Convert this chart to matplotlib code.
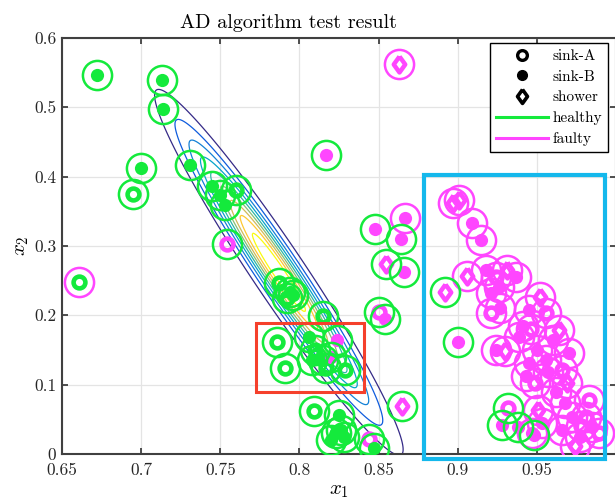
import numpy as np
import matplotlib
matplotlib.use('Agg')
import matplotlib.pyplot as plt
from matplotlib.patches import Rectangle
from matplotlib.lines import Line2D

plt.rcParams['font.family'] = ['cmr10', 'DejaVu Serif']
plt.rcParams['mathtext.fontset'] = 'cm'
plt.rcParams['axes.formatter.use_mathtext'] = True

# sample points: kind A = sink-A, B = sink-B, S = shower
# inner = state of the marker itself, ring = state of the surrounding circle (h healthy / f faulty)
pt_x = [0.672, 0.713, 0.714, 0.700, 0.695, 0.731, 0.745, 0.750, 0.760, 0.753,
        0.754, 0.661, 0.817, 0.787, 0.794, 0.792, 0.796, 0.815, 0.863, 0.848,
        0.867, 0.864, 0.855, 0.866, 0.850, 0.854,
        0.786, 0.791, 0.806, 0.810, 0.815, 0.817, 0.808, 0.824, 0.820, 0.829,
        0.809, 0.825, 0.823, 0.828, 0.820, 0.826, 0.844, 0.847, 0.865,
        0.897, 0.901, 0.909, 0.915, 0.906, 0.892, 0.900, 0.918, 0.924, 0.931,
        0.937, 0.921, 0.926, 0.921, 0.927, 0.924, 0.930, 0.952, 0.945, 0.956,
        0.941, 0.939, 0.964, 0.960, 0.970, 0.945, 0.943, 0.949, 0.966, 0.969,
        0.956, 0.983, 0.968, 0.972, 0.981, 0.966, 0.977, 0.985, 0.974, 0.989,
        0.951, 0.953, 0.947, 0.932, 0.928, 0.938, 0.948,
        0.950, 0.962, 0.978, 0.957, 0.946]
pt_y = [0.547, 0.539, 0.498, 0.412, 0.375, 0.417, 0.386, 0.374, 0.381, 0.359,
        0.303, 0.248, 0.431, 0.246, 0.234, 0.225, 0.229, 0.199, 0.563, 0.325,
        0.341, 0.310, 0.274, 0.262, 0.205, 0.194,
        0.161, 0.124, 0.169, 0.150, 0.136, 0.124, 0.136, 0.164, 0.140, 0.121,
        0.062, 0.056, 0.030, 0.025, 0.020, 0.035, 0.022, 0.008, 0.069,
        0.362, 0.366, 0.333, 0.309, 0.257, 0.233, 0.162, 0.265, 0.256, 0.265,
        0.256, 0.232, 0.241, 0.203, 0.210, 0.150, 0.148, 0.227, 0.208, 0.203,
        0.184, 0.169, 0.179, 0.164, 0.145, 0.131, 0.112, 0.102, 0.121, 0.102,
        0.136, 0.078, 0.073, 0.054, 0.054, 0.035, 0.025, 0.039, 0.011, 0.030,
        0.064, 0.044, 0.030, 0.067, 0.042, 0.039, 0.027,
        0.150, 0.090, 0.040, 0.118, 0.180]
pt_kind = ['B', 'B', 'B', 'B', 'A', 'B', 'B', 'B', 'A', 'B',
           'A', 'A', 'B', 'A', 'B', 'A', 'B', 'A', 'S', 'B',
           'B', 'B', 'S', 'B', 'A', 'B',
           'A', 'A', 'B', 'A', 'B', 'A', 'B', 'B', 'B', 'A',
           'A', 'B', 'B', 'B', 'B', 'B', 'A', 'B', 'S',
           'S', 'S', 'B', 'B', 'S', 'S', 'B', 'B', 'A', 'S',
           'B', 'B', 'B', 'A', 'B', 'B', 'S', 'S', 'B', 'A',
           'B', 'B', 'S', 'B', 'B', 'B', 'B', 'A', 'A', 'S',
           'B', 'A', 'B', 'B', 'A', 'B', 'B', 'B', 'S', 'A',
           'S', 'B', 'B', 'A', 'B', 'B', 'B',
           'B', 'B', 'A', 'B', 'A']
pt_inner = ['h'] * 10 + ['f', 'h', 'f', 'h', 'h', 'h', 'h', 'h', 'f', 'f',
            'f', 'f', 'f', 'f', 'f', 'f',
            'h', 'h', 'h', 'h', 'h', 'h', 'h', 'f', 'f', 'h',
            'h', 'h', 'h', 'h', 'h', 'h', 'f', 'h', 'f'] + ['f'] * 52
pt_ring = ['h'] * 11 + ['f', 'h', 'h', 'h', 'h', 'h', 'h', 'f', 'h',
           'f', 'h', 'h', 'h', 'h', 'h'] + ['h'] * 19 + \
          ['f', 'f', 'f', 'f', 'f', 'h', 'h'] + ['f'] * 36 + ['h'] * 4 + ['f'] * 5

legend_labels = ['sink-A', 'sink-B', 'shower', 'healthy', 'faulty']

# density model of the healthy data
blob_center = (0.787, 0.262)
blob_dir = (0.1523, -0.526)
blob_sd_long = 0.128
blob_sd_short = 0.0088
blob_levels = [0.1, 0.2, 0.3, 0.4, 0.5, 0.6, 0.7, 0.8, 0.9]
parula = ['#352a87', '#0f5cdd', '#1481d6', '#06a4ca', '#2eb7a4',
          '#87bf77', '#d1bb59', '#fec832', '#f9fb0e']

green = '#14ea3c'
magenta = '#ff46ff'
colors = {'h': green, 'f': magenta}
diamond = [(0, 1), (0.72, 0), (0, -1), (-0.72, 0), (0, 1)]

fig = plt.figure(figsize=(6.15, 5.03), dpi=100)
ax = fig.add_axes([62 / 615, 49 / 503, 554 / 615, 416 / 503])

# contours
gx, gy = np.meshgrid(np.linspace(0.6, 1.0, 500), np.linspace(-0.1, 0.65, 700))
ang = np.arctan2(blob_dir[1], blob_dir[0])
u = (gx - blob_center[0]) * np.cos(ang) + (gy - blob_center[1]) * np.sin(ang)
w = -(gx - blob_center[0]) * np.sin(ang) + (gy - blob_center[1]) * np.cos(ang)
zz = np.exp(-0.5 * ((u / blob_sd_long) ** 2 + (w / blob_sd_short) ** 2))
ax.contour(gx, gy, zz, levels=blob_levels, colors=parula, linewidths=0.9, zorder=2)

# inner markers
for x, y, k, s in zip(pt_x, pt_y, pt_kind, pt_inner):
    c = colors[s]
    if k == 'A':
        ax.plot(x, y, 'o', ms=8.5, mfc='none', mec=c, mew=3.3, zorder=3)
    elif k == 'B':
        ax.plot(x, y, 'o', ms=9.5, mfc=c, mec=c, mew=0, zorder=3)
    else:
        ax.plot(x, y, marker=diamond, ls='none', ms=11.5, mfc='none', mec=c,
                mew=3.2, zorder=3)

# outer rings
for x, y, s in zip(pt_x, pt_y, pt_ring):
    ax.plot(x, y, 'o', ms=21, mfc='none', mec=colors[s], mew=1.8, zorder=4)

ax.add_patch(Rectangle((0.7727, 0.0899), 0.0683, 0.0986, fill=False,
                       ec='#f5402c', lw=2.2, zorder=5))
ax.add_patch(Rectangle((0.8788, -0.0072), 0.1145, 0.4096, fill=False,
                       ec='#14b8ec', lw=3.0, zorder=5, clip_on=False))

ax.set_xlim(0.65, 1.0)
ax.set_ylim(0, 0.6)
ax.set_xticks([0.65, 0.7, 0.75, 0.8, 0.85, 0.9, 0.95])
ax.set_xticklabels(['0.65', '0.7', '0.75', '0.8', '0.85', '0.9', '0.95'])
ax.set_yticks([0, 0.1, 0.2, 0.3, 0.4, 0.5, 0.6])
ax.set_yticklabels(['0', '0.1', '0.2', '0.3', '0.4', '0.5', '0.6'])
ax.tick_params(direction='in', length=4, width=1.3, colors='#404040',
               labelcolor='#262626', labelsize=12.5, top=True, right=True)
ax.tick_params(axis='x', pad=6)
ax.tick_params(axis='y', pad=4)
for sp in ax.spines.values():
    sp.set_color('#404040')
    sp.set_linewidth(1.5)
ax.grid(True, color='#e4e4e4', lw=0.9)
ax.set_axisbelow(True)

ax.set_title('AD algorithm test result', fontsize=14.5, x=0.408, pad=7)
ax.set_xlabel('$x_1$', fontsize=15, labelpad=3)
ax.set_ylabel('$x_2$', fontsize=15, labelpad=2)

handles = [
    Line2D([], [], ls='none', marker='o', ms=7, mfc='none', mec='k', mew=2.4),
    Line2D([], [], ls='none', marker='o', ms=7, mfc='k', mec='k'),
    Line2D([], [], ls='none', marker=diamond, ms=10, mfc='none', mec='k', mew=2.6),
    Line2D([], [], color=green, lw=2.2),
    Line2D([], [], color=magenta, lw=2.2),
]
leg = ax.legend(handles, legend_labels, loc='upper right',
                bbox_to_anchor=(0.986, 0.987), borderaxespad=0,
                fontsize=11, handlelength=3.4, labelspacing=0.45, handletextpad=0.3,
                borderpad=0.4, fancybox=False, framealpha=1, edgecolor='k')
leg.get_frame().set_linewidth(1.0)
leg.set_zorder(10)

fig.savefig('out.png', dpi=100)
